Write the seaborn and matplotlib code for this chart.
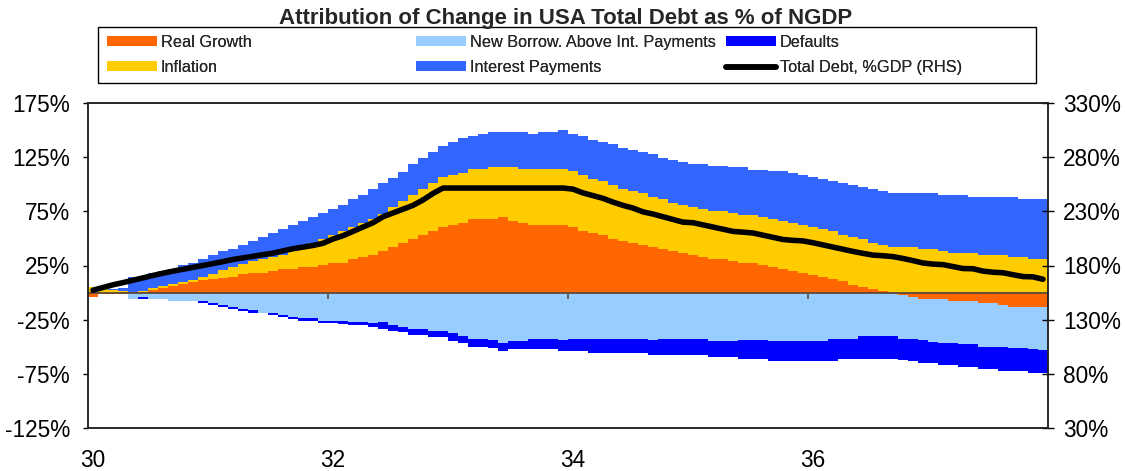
import numpy as np
import matplotlib
matplotlib.use("Agg")
import matplotlib.pyplot as plt
import seaborn as sns
from matplotlib.patches import Patch, Rectangle
from matplotlib.lines import Line2D

# ---------------- data (monthly, Jan 1930 .. Dec 1937), % of NGDP ----------------
real_growth = [
    -3.7, -1.2, -1.2, -1.0, 0.3, 0.5, 2.5, 4.2, 5.8, 8.0,
    9.8, 11.5, 12.4, 13.4, 14.8, 16.8, 18.0, 18.0, 19.7, 21.5,
    21.5, 23.4, 23.4, 25.2, 27.1, 27.1, 30.8, 32.6, 34.4, 38.1,
    41.8, 45.5, 49.2, 52.9, 56.6, 60.3, 62.1, 64.0, 67.7, 67.7,
    67.7, 69.5, 65.8, 64.0, 62.1, 62.1, 62.1, 62.1, 60.3, 56.6,
    54.7, 52.9, 49.2, 47.4, 45.5, 43.7, 41.8, 40.0, 38.1, 36.3,
    34.4, 32.6, 30.8, 30.8, 28.9, 27.1, 27.1, 25.2, 23.4, 21.5,
    19.7, 17.8, 16.0, 14.1, 12.3, 10.5, 6.8, 4.9, 3.1, 1.2,
    0.3, -1.9, -3.8, -5.6, -5.6, -5.6, -7.5, -7.5, -7.5, -9.3,
    -9.3, -11.2, -13.1, -13.1, -13.1, -13.1]

inflation = [
    5.0, 3.0, 2.0, 1.5, 0.7, 1.0, 2.0, 2.1, 2.0, 2.0,
    2.0, 3.0, 5.1, 7.1, 8.7, 9.2, 10.9, 12.8, 12.9, 13.5,
    17.0, 18.6, 22.1, 24.0, 25.8, 29.5, 29.5, 31.4, 33.3, 34.4,
    36.9, 38.7, 40.5, 42.3, 44.2, 46.0, 46.0, 46.0, 46.0, 46.0,
    47.8, 46.0, 49.7, 49.7, 51.6, 51.6, 51.6, 51.6, 51.6, 51.6,
    49.8, 49.7, 49.8, 47.8, 47.9, 47.8, 46.1, 46.0, 44.3, 44.2,
    44.3, 44.3, 44.2, 44.2, 44.3, 44.2, 44.2, 44.3, 44.3, 44.3,
    44.3, 44.3, 44.3, 44.3, 44.3, 42.4, 44.2, 44.3, 42.4, 42.5,
    41.5, 41.8, 41.8, 40.0, 40.0, 38.1, 36.3, 36.3, 36.3, 34.4,
    34.4, 34.4, 32.6, 32.6, 30.8, 30.8]

interest_payments = [
    0.5, 0.5, 1.0, 2.5, 13.4, 12.9, 13.4, 13.5, 13.8, 15.3,
    15.3, 16.3, 17.0, 17.6, 16.5, 17.7, 18.5, 20.2, 22.1, 23.4,
    23.5, 23.7, 23.9, 23.9, 24.0, 23.9, 25.7, 25.7, 27.5, 28.2,
    27.5, 27.5, 29.4, 29.4, 29.4, 29.4, 31.2, 33.0, 31.2, 33.0,
    33.0, 33.0, 33.0, 34.8, 33.0, 34.8, 34.8, 36.7, 34.8, 36.7,
    36.7, 36.7, 38.5, 38.6, 38.6, 38.7, 40.4, 38.6, 40.4, 40.5,
    40.4, 42.2, 42.3, 42.3, 42.3, 44.2, 42.3, 44.1, 44.1, 46.0,
    46.0, 46.0, 46.0, 46.0, 46.0, 47.9, 47.9, 47.9, 49.7, 49.7,
    49.7, 49.7, 49.7, 51.5, 51.5, 51.6, 53.4, 53.4, 51.5, 53.4,
    53.4, 53.4, 55.2, 53.4, 55.2, 55.2]

new_borrowing = [
    0.0, 0.0, 0.0, 0.0, -6.0, -4.0, -5.9, -5.9, -7.8, -7.8,
    -7.8, -7.9, -9.7, -11.5, -13.3, -15.3, -16.4, -18.7, -19.0, -20.4,
    -22.5, -23.6, -23.6, -26.2, -26.3, -26.6, -27.0, -27.0, -28.4, -27.3,
    -30.2, -31.5, -33.5, -33.6, -35.4, -35.4, -37.2, -40.3, -42.7, -42.7,
    -44.0, -46.4, -44.6, -44.6, -42.7, -42.7, -42.7, -43.6, -43.0, -43.0,
    -42.8, -42.8, -42.8, -42.8, -42.8, -42.8, -43.4, -42.8, -42.8, -42.8,
    -42.8, -42.8, -44.6, -44.6, -44.6, -44.0, -44.0, -44.0, -44.6, -44.6,
    -44.6, -44.6, -44.6, -44.6, -43.0, -42.7, -42.7, -40.0, -40.0, -40.0,
    -40.0, -40.8, -39.0, -38.4, -40.4, -40.9, -39.0, -40.3, -40.3, -40.7,
    -40.7, -39.3, -37.9, -37.9, -38.9, -40.2]

defaults = [
    0.0, 0.0, 0.0, 0.0, 0.0, -2.0, 0.0, 0.0, 0.0, 0.0,
    0.0, -1.9, -2.0, -1.9, -2.0, -1.9, -2.5, -0.4, -1.9, -2.3,
    -2.0, -2.8, -2.8, -2.0, -1.7, -2.5, -2.6, -2.6, -3.1, -6.0,
    -5.0, -5.2, -5.3, -5.3, -5.3, -5.4, -7.1, -6.6, -7.4, -7.4,
    -7.5, -7.1, -7.4, -7.4, -9.3, -9.3, -9.3, -9.9, -10.8, -10.8,
    -12.6, -12.6, -13.2, -13.2, -13.2, -13.2, -14.1, -14.7, -14.7, -14.7,
    -14.7, -14.7, -14.8, -14.8, -14.8, -17.2, -17.2, -17.2, -18.4, -18.4,
    -18.4, -18.4, -18.4, -18.4, -20.0, -18.5, -18.5, -21.2, -21.2, -21.2,
    -21.2, -19.3, -20.2, -20.8, -18.8, -20.1, -20.1, -20.7, -20.7, -20.3,
    -20.3, -21.5, -21.0, -21.0, -22.0, -20.7]

total_debt_rhs = [
    157.2, 159.7, 162.2, 164.2, 166.4, 168.6, 170.8, 172.9, 174.8, 176.5,
    178.3, 180.0, 181.8, 183.6, 185.6, 187.0, 188.5, 190.0, 191.4, 193.5,
    195.5, 197.0, 198.5, 200.5, 204.5, 207.5, 211.5, 215.5, 219.5, 225.0,
    228.5, 232.0, 235.5, 240.5, 246.5, 251.5, 251.5, 251.5, 251.5, 251.5,
    251.5, 251.5, 251.5, 251.5, 251.5, 251.5, 251.5, 251.5, 250.5, 247.0,
    244.5, 242.0, 238.5, 235.5, 233.0, 229.5, 227.5, 225.0, 222.5, 220.0,
    219.5, 217.5, 215.5, 213.5, 211.5, 210.8, 210.0, 208.0, 206.0, 204.0,
    203.2, 202.7, 201.0, 199.0, 197.0, 195.0, 193.0, 191.2, 189.6, 189.0,
    188.2, 186.5, 184.5, 182.3, 181.3, 180.8, 179.0, 177.2, 177.0, 174.8,
    173.8, 173.3, 171.5, 169.8, 169.5, 167.3]

start_year = 1930
tick_years = [1930, 1932, 1934, 1936]
tick_labels = ["30", "32", "34", "36"]
left_ticks = [-125, -75, -25, 25, 75, 125, 175]
right_ticks = [30, 80, 130, 180, 230, 280, 330]

series_names = ["Real Growth", "Inflation", "New Borrow. Above Int. Payments",
                "Interest Payments", "Defaults", "Total Debt, %GDP (RHS)"]
title = "Attribution of Change in USA Total Debt as % of NGDP"

C_RG, C_INF, C_NB, C_INT, C_DEF = "#FF6600", "#FFCC00", "#99CCFF", "#3366FF", "#0000FF"

# ---------------- styling ----------------
sns.set_theme(style="white")
plt.rcParams['font.family'] = ['Liberation Sans', 'DejaVu Sans']

W, H = 1125, 471
rg = np.array(real_growth)
inf = np.array(inflation)
ip = np.array(interest_payments)
nb = np.array(new_borrowing)
df = np.array(defaults)
n = len(rg)
x = start_year + (np.arange(n) + 0.5) / 12.0
pos_base = np.maximum(rg, 0)
neg_base = np.minimum(rg, 0)

fig = plt.figure(figsize=(W / 100, H / 100), dpi=100)
ax = fig.add_axes([88 / W, 1 - 428 / H, 960 / W, 325 / H])

w = 1 / 12.0
def bars(vals, bottom, color):
    ax.bar(x, vals, bottom=bottom, width=w * 1.04, color=color,
           linewidth=0, antialiased=False, align='center', zorder=2)

bars(rg, 0, C_RG)
bars(inf, pos_base, C_INF)
bars(ip, pos_base + inf, C_INT)
bars(nb, neg_base, C_NB)
bars(df, neg_base + nb, C_DEF)

ax.set_xlim(start_year, start_year + n / 12.0)
ax.set_ylim(-125, 175)
ax.axhline(0, color="#5a4a3c", lw=1.3, zorder=4)
ax.vlines(tick_years[1:], 0, -5.5, color="#5a5a5a", lw=1.3, zorder=4)

FS = 16.3
ax.set_yticks(left_ticks)
ax.set_yticklabels([f"{v}%" for v in left_ticks])
ax.set_xticks([t + 1 / 24 for t in tick_years])
ax.set_xticklabels(tick_labels)
ax.tick_params(axis='x', length=0, pad=15, labelsize=FS, colors='black')
ax.tick_params(axis='y', direction='out', length=3.5, width=1, pad=9.5,
               labelsize=FS, left=True, colors='black')

ax2 = ax.twinx()
sns.lineplot(x=x, y=np.array(total_debt_rhs), ax=ax2, color="black", lw=4.0,
             solid_joinstyle='round', solid_capstyle='round', zorder=5)
ax2.set_ylim(30, 330)
ax2.set_yticks(right_ticks)
ax2.set_yticklabels([f"{v}%" for v in right_ticks])
ax2.tick_params(axis='y', direction='inout', length=8.5, width=1, pad=6.5,
                labelsize=FS, right=True, colors='black')
ax2.set_ylabel("")
ax.set_ylabel("")

for a in (ax, ax2):
    for s in a.spines.values():
        s.set_color("#222222")
        s.set_linewidth(1.1)
        s.set_visible(True)

fig.text(565.5 / W, 1 - 24 / H, title, ha='center', va='baseline',
         fontsize=16, fontweight='bold')

# legend: frame + three columns of two entries
fig.patches.append(Rectangle((98 / W, 1 - 82.7 / H), (1036 - 98) / W, 55.4 / H,
                             transform=fig.transFigure, facecolor='white',
                             edgecolor='black', linewidth=1.0, zorder=0))
handles = [
    Patch(facecolor=C_RG, edgecolor='none'),
    Patch(facecolor=C_INF, edgecolor='none'),
    Patch(facecolor=C_NB, edgecolor='none'),
    Patch(facecolor=C_INT, edgecolor='none'),
    Patch(facecolor=C_DEF, edgecolor='none'),
    Line2D([0], [0], color='black', lw=4.0),
]
LFS = 11.7
col_x = [106.5, 416.0, 725.5]
for c in range(3):
    lg = fig.legend(handles[2 * c:2 * c + 2], series_names[2 * c:2 * c + 2],
                    loc='center left', bbox_to_anchor=(col_x[c] / W, 1 - 55 / H),
                    fontsize=LFS, handlelength=3.08, handleheight=0.57,
                    handletextpad=0.27, labelspacing=0.6, borderpad=0,
                    borderaxespad=0, frameon=False)
    fig.add_artist(lg)

fig.savefig("out.png", dpi=100)
